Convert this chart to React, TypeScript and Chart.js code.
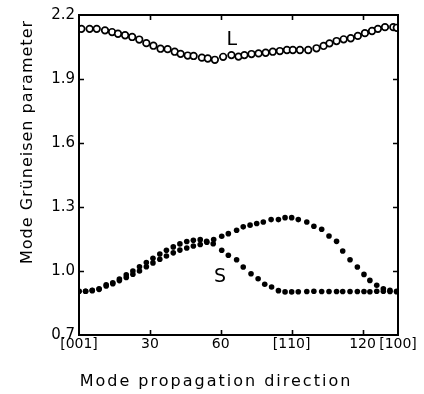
import React, { useEffect, useRef } from "react";
import { Chart, registerables } from "chart.js";

Chart.register(...registerables);

// ---- data ----
const lAngles = [1, 4.5, 7.5, 11, 14, 16.5, 19.5, 22.5, 25.5, 28.5, 31.5, 34.5, 37.5, 40.5, 43, 46, 48.5, 52, 54.5, 57.5, 61, 64.5, 67.5, 70, 73, 76, 79, 82, 85, 88, 90.5, 93.5, 97, 100.5, 103.5, 106, 109, 112, 115, 118, 121, 124, 126.5, 129.5, 133, 134.5];
const lValues = [2.135, 2.135, 2.135, 2.128, 2.12, 2.112, 2.105, 2.097, 2.085, 2.068, 2.056, 2.042, 2.04, 2.028, 2.018, 2.01, 2.008, 2.0, 1.996, 1.99, 2.004, 2.012, 2.005, 2.012, 2.017, 2.02, 2.023, 2.028, 2.031, 2.036, 2.036, 2.036, 2.036, 2.044, 2.055, 2.067, 2.078, 2.086, 2.091, 2.102, 2.115, 2.125, 2.135, 2.143, 2.143, 2.14];

const sUpperAngles = [0, 2.8, 5.6, 8.5, 11.5, 14.3, 17.1, 20, 22.8, 25.6, 28.5, 31.3, 34.2, 37, 39.9, 42.7, 45.6, 48.4, 51.3, 54.1, 57, 60.4, 63.2, 66.7, 69.5, 72.4, 75.2, 78, 81.3, 84.4, 87.2, 90, 92.8, 96.4, 99.4, 102.7, 105.8, 109, 111.6, 114.7, 117.8, 120.6, 123.1, 126, 128.8, 131.6, 134.4];
const sUpperValues = [0.905, 0.905, 0.908, 0.914, 0.93, 0.94, 0.955, 0.97, 0.985, 1.0, 1.02, 1.038, 1.055, 1.07, 1.085, 1.098, 1.108, 1.117, 1.124, 1.135, 1.148, 1.163, 1.175, 1.191, 1.207, 1.215, 1.223, 1.23, 1.241, 1.241, 1.25, 1.25, 1.241, 1.23, 1.21, 1.196, 1.164, 1.139, 1.094, 1.053, 1.019, 0.984, 0.956, 0.933, 0.917, 0.909, 0.905];

const sLowerAngles = [0, 2.8, 5.6, 8.5, 11.5, 14.3, 17.1, 20, 22.8, 25.6, 28.5, 31.3, 34.2, 37, 39.9, 42.7, 45.6, 48.4, 51.3, 54, 56.8, 60.4, 63.2, 66.7, 69.5, 72.8, 75.8, 78.6, 81.5, 84.4, 87.2, 90, 92.8, 96.4, 99.4, 102.7, 105.8, 109, 111.6, 114.7, 117.8, 120.6, 123.1, 126, 128.8, 131.6, 134.4];
const sLowerValues = [0.905, 0.905, 0.91, 0.917, 0.935, 0.945, 0.962, 0.982, 1.0, 1.02, 1.04, 1.06, 1.08, 1.097, 1.113, 1.127, 1.138, 1.144, 1.147, 1.139, 1.128, 1.097, 1.074, 1.053, 1.019, 0.987, 0.964, 0.938, 0.925, 0.908, 0.902, 0.902, 0.903, 0.904, 0.905, 0.904, 0.904, 0.904, 0.904, 0.904, 0.904, 0.904, 0.903, 0.905, 0.905, 0.904, 0.903];

const xTickValues = [0, 30, 60, 90, 120, 135];
const xTickLabels = ["[001]", "30", "60", "[110]", "120", "[100]"];
const yTickValues = [0.7, 1.0, 1.3, 1.6, 1.9, 2.2];

const xTitle = "Mode propagation direction";
const yTitle = "Mode Grüneisen parameter";

const curveLabelTexts = ["L", "S"];
const curveLabelX = [64.7, 59.7];
const curveLabelY = [2.083, 0.972];

const FONT = "'DejaVu Sans', sans-serif";

const framePlugin = {
  id: "frameAndLabels",
  afterDatasetsDraw(chart: any) {
    const { ctx, chartArea: a, scales } = chart;
    const xs = scales.x;
    const ys = scales.y;
    ctx.save();
    ctx.strokeStyle = "#000";
    ctx.lineWidth = 2;
    ctx.strokeRect(a.left, a.top, a.right - a.left, a.bottom - a.top);
    ctx.lineWidth = 1.6;
    const tl = 5;
    ctx.beginPath();
    xTickValues.forEach((v) => {
      if (v <= xs.min || v >= xs.max) return;
      const px = Math.round(xs.getPixelForValue(v)) + 0.5;
      ctx.moveTo(px, a.bottom);
      ctx.lineTo(px, a.bottom - tl);
      ctx.moveTo(px, a.top);
      ctx.lineTo(px, a.top + tl);
    });
    yTickValues.forEach((v) => {
      if (v <= ys.min + 1e-9 || v >= ys.max - 1e-9) return;
      const py = Math.round(ys.getPixelForValue(v)) + 0.5;
      ctx.moveTo(a.left, py);
      ctx.lineTo(a.left + tl, py);
      ctx.moveTo(a.right, py);
      ctx.lineTo(a.right - tl, py);
    });
    ctx.stroke();

    // curve labels
    ctx.fillStyle = "#000";
    ctx.font = `19px ${FONT}`;
    ctx.textAlign = "center";
    ctx.textBaseline = "middle";
    curveLabelTexts.forEach((t, i) => {
      ctx.fillText(t, xs.getPixelForValue(curveLabelX[i]), ys.getPixelForValue(curveLabelY[i]));
    });

    // axis titles
    ctx.font = `16px ${FONT}`;
    (ctx as any).letterSpacing = "2px";
    ctx.textAlign = "center";
    ctx.textBaseline = "alphabetic";
    ctx.fillText(xTitle, 216, 386);
    (ctx as any).letterSpacing = "1px";
    ctx.save();
    ctx.translate(32, 142);
    ctx.rotate(-Math.PI / 2);
    ctx.fillText(yTitle, 0, 0);
    ctx.restore();
    ctx.restore();
  },
};

export default function App() {
  const ref = useRef<HTMLCanvasElement | null>(null);
  useEffect(() => {
    if (!ref.current) return;
    const chart = new Chart(ref.current, {
      type: "scatter",
      data: {
        datasets: [
          {
            label: "L",
            data: lAngles.map((x, i) => ({ x, y: lValues[i] })),
            pointStyle: "circle",
            pointRadius: 3.3,
            pointBorderWidth: 1.7,
            pointBackgroundColor: "#fff",
            pointBorderColor: "#000",
            showLine: false,
          },
          {
            label: "S upper",
            data: sUpperAngles.map((x, i) => ({ x, y: sUpperValues[i] })),
            pointRadius: 2.8,
            pointBorderWidth: 0,
            pointBackgroundColor: "#000",
            pointBorderColor: "#000",
            showLine: false,
          },
          {
            label: "S lower",
            data: sLowerAngles.map((x, i) => ({ x, y: sLowerValues[i] })),
            pointRadius: 2.8,
            pointBorderWidth: 0,
            pointBackgroundColor: "#000",
            pointBorderColor: "#000",
            showLine: false,
          },
        ],
      },
      options: {
        animation: false,
        responsive: false,
        devicePixelRatio: 1,
        layout: { padding: { top: 15, right: 26, left: 0, bottom: 0 } },
        plugins: { legend: { display: false }, tooltip: { enabled: false } },
        scales: {
          x: {
            type: "linear",
            min: 0,
            max: 135,
            grid: { display: false, drawTicks: false },
            border: { display: false },
            afterBuildTicks: (s: any) => {
              s.ticks = xTickValues.map((v) => ({ value: v }));
            },
            afterFit: (s: any) => {
              s.height = 59;
            },
            ticks: {
              autoSkip: false,
              maxRotation: 0,
              padding: 1,
              color: "#000",
              font: { family: FONT, size: 14 },
              callback: (v: any) => {
                const i = xTickValues.indexOf(Number(v));
                return i >= 0 ? xTickLabels[i] : "";
              },
            },
          },
          y: {
            type: "linear",
            min: 0.7,
            max: 2.2,
            grid: { display: false, drawTicks: false },
            border: { display: false },
            afterBuildTicks: (s: any) => {
              s.ticks = yTickValues.map((v) => ({ value: v }));
            },
            afterFit: (s: any) => {
              s.width = 79;
            },
            ticks: {
              autoSkip: false,
              padding: 4,
              color: "#000",
              font: { family: FONT, size: 15 },
              callback: (v: any) => Number(v).toFixed(1),
            },
          },
        },
      },
      plugins: [framePlugin],
    } as any);
    return () => chart.destroy();
  }, []);
  return (
    <div style={{ position: "absolute", left: 0, top: 0, width: 424, height: 394, background: "#fff" }}>
      <canvas ref={ref} width={424} height={394} style={{ display: "block" }} />
    </div>
  );
}
